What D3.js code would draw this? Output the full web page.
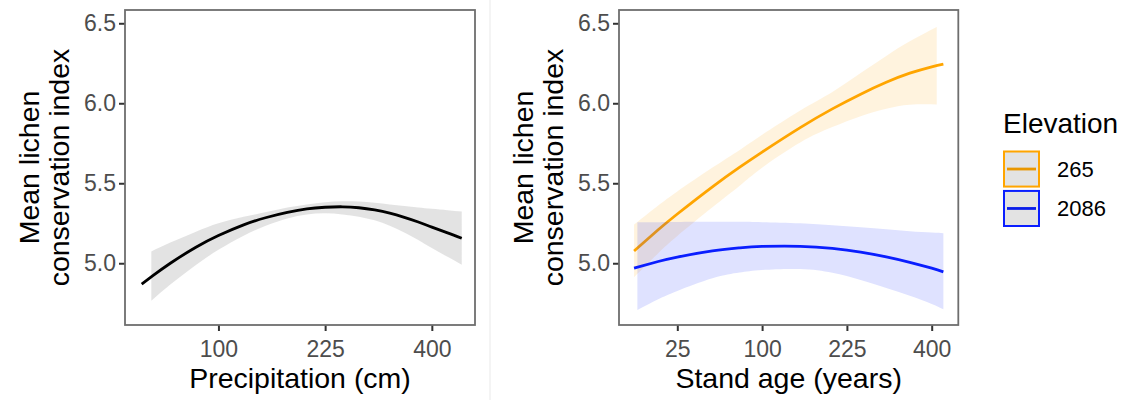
<!DOCTYPE html>
<html>
<head>
<meta charset="utf-8">
<script src="https://cdn.jsdelivr.net/npm/d3@7"></script>
<style>
  html, body { margin: 0; padding: 0; background: #ffffff; }
  svg text { font-family: "Liberation Sans", Arial, Helvetica, sans-serif; }
</style>
</head>
<body>
<svg id="chart" width="1126" height="400"></svg>
<script>
// ---- Precipitation model (left panel) ----
const precipX = [41, 48, 60, 80, 100, 125, 150, 175, 200, 225, 250, 275, 300, 325, 350, 375, 400, 430, 458];
const precipFit = [4.869, 4.922, 5.000, 5.100, 5.173, 5.240, 5.286, 5.318, 5.340, 5.350, 5.353, 5.347, 5.333, 5.313, 5.287, 5.258, 5.226, 5.190, 5.156];
const precipBandX = [47, 60, 80, 100, 125, 150, 175, 200, 225, 250, 275, 300, 325, 350, 375, 400, 430, 458];
const precipUpper = [5.073, 5.129, 5.197, 5.250, 5.290, 5.320, 5.348, 5.368, 5.382, 5.388, 5.386, 5.378, 5.368, 5.358, 5.348, 5.340, 5.331, 5.323];
const precipLower = [4.766, 4.867, 4.989, 5.084, 5.172, 5.236, 5.280, 5.305, 5.312, 5.305, 5.291, 5.268, 5.235, 5.192, 5.145, 5.095, 5.040, 4.990];

// ---- Stand age model by elevation (right panel) ----
const ageX = [6, 15, 25, 50, 75, 100, 150, 200, 250, 300, 350, 400, 428];
const fit265 = [5.077, 5.209, 5.308, 5.478, 5.599, 5.695, 5.848, 5.965, 6.057, 6.131, 6.188, 6.228, 6.245];
const fit2086 = [4.969, 5.011, 5.039, 5.077, 5.096, 5.105, 5.106, 5.093, 5.070, 5.040, 5.006, 4.969, 4.946];
const band265X = [6, 15, 25, 50, 75, 100, 150, 200, 250, 300, 350, 412];
const upper265 = [5.242, 5.361, 5.449, 5.598, 5.707, 5.803, 5.955, 6.071, 6.189, 6.296, 6.387, 6.477];
const lower265 = [4.912, 5.063, 5.171, 5.350, 5.483, 5.597, 5.755, 5.851, 5.919, 5.966, 5.991, 5.993];
const band2086X = [7, 15, 25, 50, 75, 100, 150, 200, 250, 300, 350, 400, 428];
const upper2086 = [5.256, 5.257, 5.258, 5.259, 5.259, 5.257, 5.250, 5.238, 5.225, 5.212, 5.200, 5.192, 5.188];
const lower2086 = [4.708, 4.775, 4.827, 4.906, 4.942, 4.958, 4.964, 4.940, 4.895, 4.845, 4.797, 4.746, 4.712];

// ---- Axes ----
const yTicks = [5.0, 5.5, 6.0, 6.5];
const precipTicks = [100, 225, 400];
const ageTicks = [25, 100, 225, 400];
const elevations = ["265", "2086"];
const elevColors = ["#FFA500", "#0A1EFF"];

const svg = d3.select("#chart");
const FONT_TICK = 23;
const FONT_TITLE = 28.5;

// faint divider between the two plots
svg.append("line")
  .attr("x1", 490).attr("x2", 490).attr("y1", 0).attr("y2", 400)
  .attr("stroke", "#f1f1f1").attr("stroke-width", 1.5);

const panelTop = 10, panelBottom = 325;
const y = d3.scaleLinear().domain([4.614, 6.583]).range([panelBottom, panelTop]);

function drawPanel(opts) {
  const { left, right, x, xTicks, xTitle } = opts;
  const g = svg.append("g");
  const marks = g.append("g");

  // axes
  const yAxis = d3.axisLeft(y).tickValues(yTicks).tickFormat(d3.format(".1f")).tickSize(6).tickPadding(3);
  const gy = g.append("g").attr("transform", `translate(${left},0)`).call(yAxis);
  const xAxis = d3.axisBottom(x).tickValues(xTicks).tickFormat(d3.format("d")).tickSize(6).tickPadding(10);
  const gx = g.append("g").attr("transform", `translate(0,${panelBottom})`).call(xAxis);
  [gx, gy].forEach(a => {
    a.select(".domain").remove();
    a.selectAll(".tick line").attr("stroke", "#333333").attr("stroke-width", 2);
    a.selectAll(".tick text").attr("fill", "#4d4d4d").style("font-size", FONT_TICK + "px");
  });
  gx.selectAll(".tick text").attr("dy", "0.71em");

  // panel border
  g.append("rect")
    .attr("x", left).attr("y", panelTop)
    .attr("width", right - left).attr("height", panelBottom - panelTop)
    .attr("fill", "none").attr("stroke", "#6e6e6e").attr("stroke-width", 1.8);

  // axis titles
  g.append("text")
    .attr("x", (left + right) / 2).attr("y", 388)
    .attr("text-anchor", "middle").attr("fill", "#000")
    .style("font-size", FONT_TITLE + "px").text(xTitle);
  const yMid = (panelTop + panelBottom) / 2;
  [["Mean lichen", left - 86], ["conservation index", left - 56]].forEach(([t, bx]) => {
    g.append("text")
      .attr("transform", `translate(${bx},${yMid}) rotate(-90)`)
      .attr("text-anchor", "middle").attr("fill", "#000")
      .style("font-size", FONT_TITLE + "px").text(t);
  });
  return marks;
}

function band(g, x, xs, lo, hi, fill, opacity) {
  const area = d3.area()
    .x(d => x(d.x)).y0(d => y(d.lo)).y1(d => y(d.hi))
    .curve(d3.curveNatural);
  g.append("path")
    .datum(xs.map((v, i) => ({ x: v, lo: lo[i], hi: hi[i] })))
    .attr("d", area).attr("fill", fill).attr("fill-opacity", opacity);
}

function fitLine(g, x, xs, ys, color) {
  const line = d3.line().x(d => x(d.x)).y(d => y(d.y)).curve(d3.curveNatural);
  g.append("path")
    .datum(xs.map((v, i) => ({ x: v, y: ys[i] })))
    .attr("d", line).attr("fill", "none")
    .attr("stroke", color).attr("stroke-width", 2.8);
}

// ---- Left panel: precipitation ----
const xPrecip = d3.scaleSqrt().domain([31.6, 485]).range([125, 475]);
const leftMarks = drawPanel({ left: 125, right: 475, x: xPrecip, xTicks: precipTicks, xTitle: "Precipitation (cm)" });
band(leftMarks, xPrecip, precipBandX, precipLower, precipUpper, "#999999", 0.28);
fitLine(leftMarks, xPrecip, precipX, precipFit, "#000000");

// ---- Right panel: stand age, by elevation ----
const xAge = d3.scaleSqrt().domain([2.44, 465.2]).range([619, 958.3]);
const rightMarks = drawPanel({ left: 619, right: 958.3, x: xAge, xTicks: ageTicks, xTitle: "Stand age (years)" });
band(rightMarks, xAge, band265X, lower265, upper265, elevColors[0], 0.13);
fitLine(rightMarks, xAge, ageX, fit265, elevColors[0]);
band(rightMarks, xAge, band2086X, lower2086, upper2086, elevColors[1], 0.13);
fitLine(rightMarks, xAge, ageX, fit2086, elevColors[1]);

// ---- Legend ----
const legend = svg.append("g").attr("transform", "translate(1003,0)");
legend.append("text").attr("x", 0).attr("y", 133)
  .attr("fill", "#000").style("font-size", "28px").text("Elevation");
const keyY = d3.scaleBand().domain(elevations).range([150.5, 227]).paddingInner(0.06);
elevations.forEach((e, i) => {
  const k = legend.append("g").attr("transform", `translate(0,${keyY(e)})`);
  const s = keyY.bandwidth();
  k.append("rect").attr("x", 1).attr("y", 1).attr("width", 35).attr("height", s - 2)
    .attr("fill", "#e3e3e3").attr("stroke", elevColors[i]).attr("stroke-width", 2);
  k.append("line").attr("x1", 4).attr("x2", 33).attr("y1", s / 2).attr("y2", s / 2)
    .attr("stroke", d3.color(elevColors[i]).darker(0.25)).attr("stroke-width", 2.8);
  legend.append("text").attr("x", 54).attr("y", keyY(e) + s / 2 + 8)
    .attr("fill", "#000").style("font-size", "22px").text(e);
});
</script>
</body>
</html>
